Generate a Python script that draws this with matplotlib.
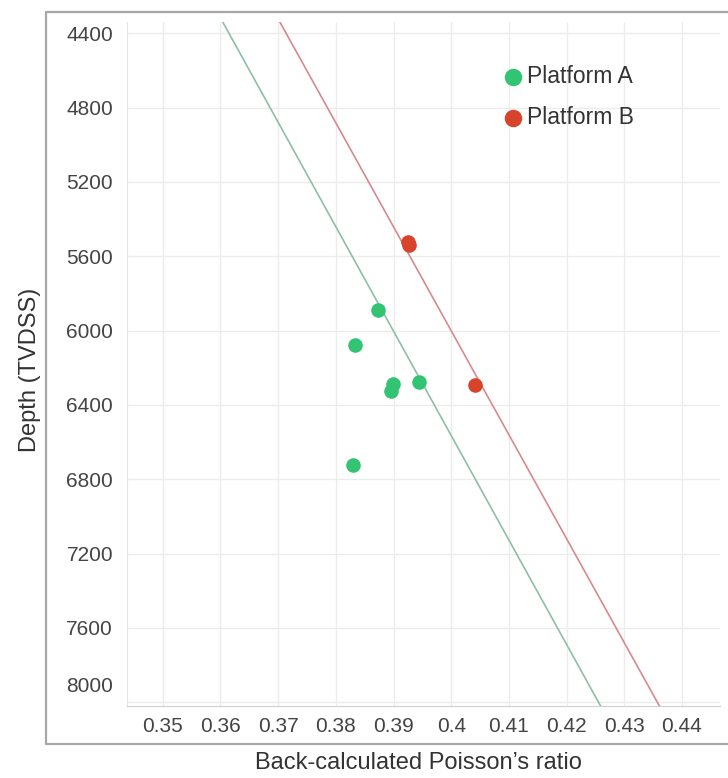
import matplotlib
matplotlib.use("Agg")
import matplotlib.pyplot as plt
from matplotlib.lines import Line2D
from matplotlib.transforms import ScaledTranslation

plt.rcParams['font.family'] = ['Liberation Sans', 'DejaVu Sans']

# Platform A points (Poisson's ratio, depth)
a_ratio = [0.3873, 0.3834, 0.3899, 0.3895, 0.3945, 0.3829]
a_depth = [5892, 6079, 6288, 6325, 6277, 6721]

# Platform B points
b_ratio = [0.3925, 0.3927, 0.4042]
b_depth = [5525, 5542, 6293]

# trend lines (end points at top / bottom of the depth range)
line_depth = [4340, 8020]
a_line_ratio = [0.3604, 0.4259]
b_line_ratio = [0.3703, 0.4361]

xticks = [0.35, 0.36, 0.37, 0.38, 0.39, 0.4, 0.41, 0.42, 0.43, 0.44]
xtick_labels = ['0.35', '0.36', '0.37', '0.38', '0.39', '0.4', '0.41', '0.42', '0.43', '0.44']
yticks = [4400, 4800, 5200, 5600, 6000, 6400, 6800, 7200, 7600, 8000]

W, H = 728, 778
fig = plt.figure(figsize=(W / 100, H / 100), dpi=100)
ax = fig.add_axes([127 / W, 1 - 706 / H, (720 - 127) / W, (706 - 22) / H])

green = '#33c473'
red = '#d8432c'

ax.plot(a_line_ratio, line_depth, color='#8dbfa7', lw=1.2, zorder=2)
ax.plot(b_line_ratio, line_depth, color='#d68a90', lw=1.2, zorder=2)
ax.scatter(a_ratio, a_depth, s=110, color=green, zorder=3, linewidths=0, label='Platform A')
ax.scatter(b_ratio, b_depth, s=110, color=red, zorder=3, linewidths=0, label='Platform B')

ax.set_xlim(0.3438, 0.4466)
ax.set_ylim(8020, 4340)
ax.set_xticks(xticks)
ax.set_xticklabels(xtick_labels)
ax.set_yticks(yticks)
ax.grid(True, color='#ececec', lw=1.0)
ax.set_axisbelow(True)
ax.tick_params(length=0, labelsize=15, colors='#444444', pad=10)
ax.tick_params(axis='x', pad=8)

# last depth label sits a little above its gridline
lbl = ax.get_yticklabels()[-1]
lbl.set_transform(lbl.get_transform() + ScaledTranslation(0, 13 / 72, fig.dpi_scale_trans))

for s in ['top', 'right']:
    ax.spines[s].set_visible(False)
ax.spines['left'].set_color('#e4e4e4')
ax.spines['bottom'].set_color('#cfcfcf')

fig.text(418 / W, 1 - 763 / H, "Back-calculated Poisson\u2019s ratio", ha='center', va='center',
         fontsize=17, color='#333333')
fig.text(30 / W, 1 - 370 / H, "Depth (TVDSS)", ha='center', va='center', rotation=90,
         fontsize=17, color='#333333')

# outer frame (open to the right)
fx0, fy0, fy1 = 46 / W, 1 - 744 / H, 1 - 12 / H
fig.add_artist(Line2D([1.0, fx0, fx0, 1.0], [fy1, fy1, fy0, fy0], transform=fig.transFigure,
                      color='#a8a8a8', lw=1.6))

ax.legend(loc='upper left', bbox_to_anchor=(490 / W, 1 - 54 / H), bbox_transform=fig.transFigure,
          frameon=False, fontsize=16.5, handletextpad=0.1, labelspacing=0.75, borderpad=0,
          handlelength=1.0, labelcolor='#333333', markerscale=1.2)

fig.savefig('out.png', dpi=100)
